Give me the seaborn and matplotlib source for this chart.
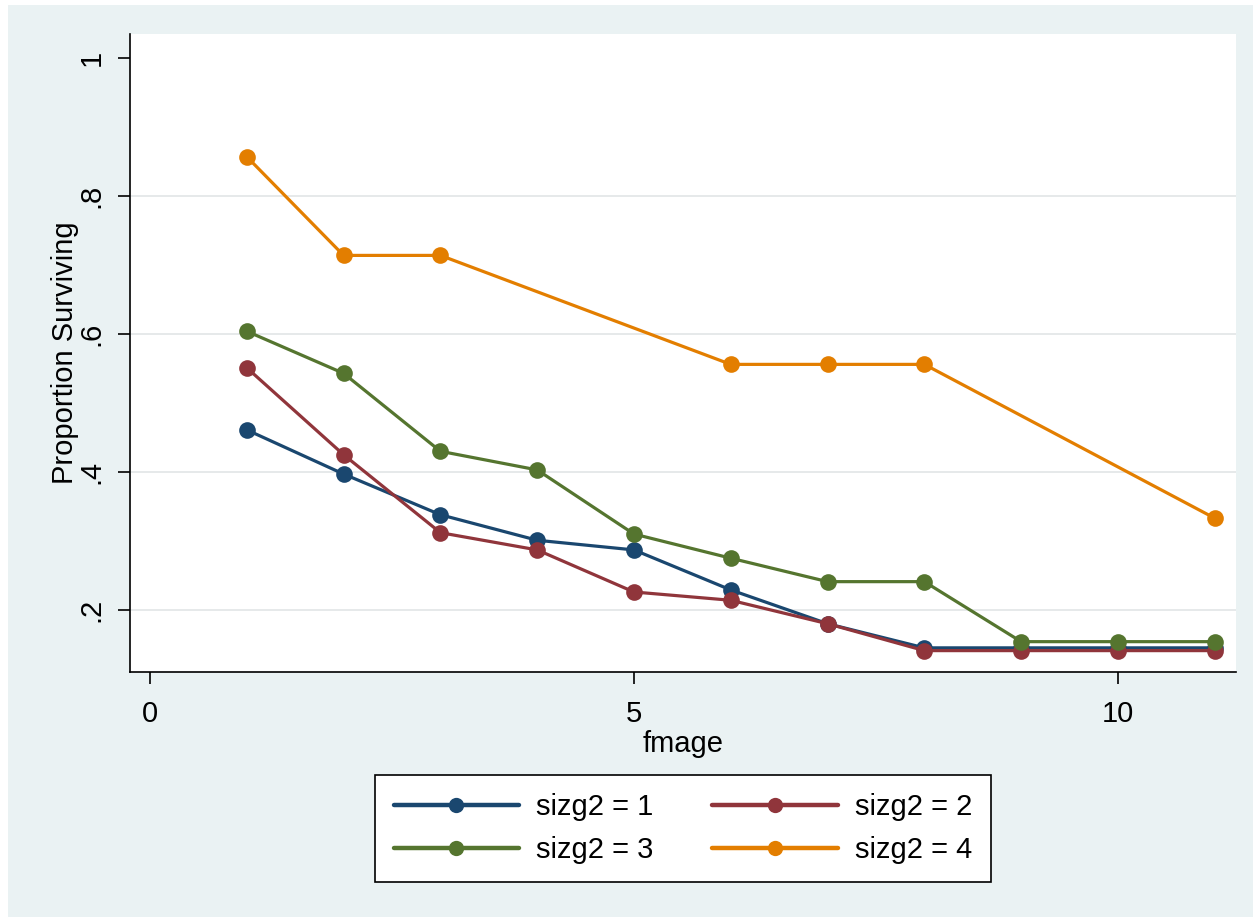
import numpy as np
import pandas as pd
import matplotlib
matplotlib.use("Agg")
import matplotlib.pyplot as plt
from matplotlib.patches import Rectangle
import seaborn as sns

# Proportion surviving by mother's age group (fmage), one series per sizg2 group
fmage_1 = [1, 2, 3, 4, 5, 6, 7, 8, 9, 10, 11]
surv_1 = [0.461, 0.397, 0.338, 0.301, 0.287, 0.229, 0.180, 0.145, 0.145, 0.145, 0.145]

fmage_2 = [1, 2, 3, 4, 5, 6, 7, 8, 9, 10, 11]
surv_2 = [0.551, 0.425, 0.312, 0.287, 0.226, 0.214, 0.180, 0.141, 0.141, 0.141, 0.141]

fmage_3 = [1, 2, 3, 4, 5, 6, 7, 8, 9, 10, 11]
surv_3 = [0.604, 0.543, 0.430, 0.403, 0.310, 0.275, 0.241, 0.241, 0.154, 0.154, 0.154]

fmage_4 = [1, 2, 3, 6, 7, 8, 11]
surv_4 = [0.857, 0.714, 0.714, 0.556, 0.556, 0.556, 0.333]

group_labels = ["sizg2 = 1", "sizg2 = 2", "sizg2 = 3", "sizg2 = 4"]
y_ticks = [0.2, 0.4, 0.6, 0.8, 1.0]
y_ticklabels = [".2", ".4", ".6", ".8", "1"]
x_ticks = [0, 5, 10]

frames = []
for lab, xs, ys in zip(group_labels,
                       [fmage_1, fmage_2, fmage_3, fmage_4],
                       [surv_1, surv_2, surv_3, surv_4]):
    frames.append(pd.DataFrame({"fmage": xs, "surv": ys, "group": lab}))
df = pd.concat(frames, ignore_index=True)

palette = dict(zip(group_labels, ["#1A476F", "#90353B", "#55752F", "#E37E00"]))

sns.set_theme(style="white")
plt.rcParams["font.family"] = ["Liberation Sans", "DejaVu Sans"]
plt.rcParams["text.color"] = "black"

bg = "#EAF2F3"
W, H = 1253, 917
fig = plt.figure(figsize=(W / 100, H / 100), dpi=100, facecolor="white")
# light graph region with a thin white margin on the top and left
fig.patches.append(Rectangle((8 / W, 0), 1 - 8 / W, 1 - 5 / H,
                             transform=fig.transFigure, facecolor=bg,
                             edgecolor="none", zorder=-10))

ax = fig.add_axes([130 / W, (H - 672) / H, 1106 / W, 638 / H])
ax.set_facecolor("white")

sns.lineplot(data=df, x="fmage", y="surv", hue="group", palette=palette,
             marker="o", markersize=12, markeredgewidth=0, linewidth=2.3,
             ax=ax, legend=False)

ax.set_xlim(-0.207, 11.22)
ax.set_ylim(0.110, 1.035)

ax.set_yticks(y_ticks)
ax.set_yticklabels(y_ticklabels, rotation=90, va="center")
ax.set_xticks(x_ticks)
ax.tick_params(axis="both", direction="out", length=8.5, width=1.2,
               color="black", labelsize=21, labelcolor="black", pad=9,
               left=True, bottom=True)
ax.tick_params(axis="x", pad=12)

for yv in y_ticks[:-1]:
    ax.axhline(yv, color="#E6E9EA", linewidth=1.4, zorder=0)

for side in ["top", "right"]:
    ax.spines[side].set_visible(False)
for side in ["left", "bottom"]:
    ax.spines[side].set_color("black")
    ax.spines[side].set_linewidth(1.2)

ax.set_xlabel("fmage", fontsize=21, color="black", labelpad=1)
ax.set_ylabel("Proportion Surviving", fontsize=21, color="black", labelpad=-1)

# legend filled row by row: 1, 2 on top, 3, 4 below
order = [0, 2, 1, 3]
handles = [plt.Line2D([0], [0], color=palette[group_labels[i]], linewidth=3.2,
                      marker="o", markersize=11, markeredgewidth=0)
           for i in order]
labels = [group_labels[i] for i in order]
leg = ax.legend(handles, labels, loc="upper center",
                bbox_to_anchor=(0.5, -0.162), ncol=2, fontsize=21,
                frameon=True, fancybox=False, edgecolor="black",
                facecolor="white", framealpha=1, handlelength=4.3,
                handletextpad=0.6, columnspacing=2.0, borderpad=0.62,
                labelspacing=0.5, borderaxespad=0)
leg.get_frame().set_linewidth(1.2)
for t in leg.get_texts():
    t.set_color("black")

fig.savefig("out.png", dpi=100, facecolor="white")
